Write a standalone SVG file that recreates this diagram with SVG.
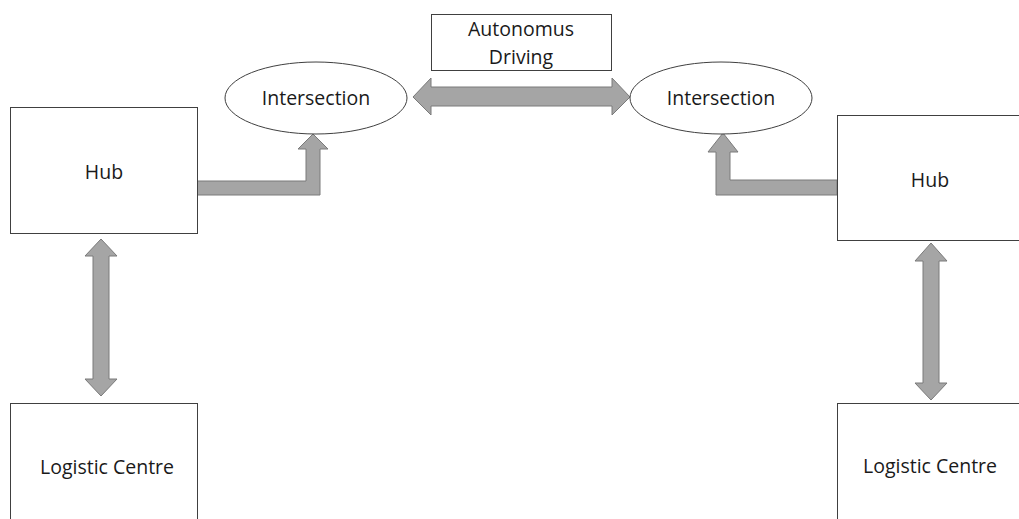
<svg xmlns="http://www.w3.org/2000/svg" width="1019" height="519" viewBox="0 0 1019 519">
  <style>
    .box { fill: #ffffff; stroke: #404040; stroke-width: 1; }
    .arrow { fill: #a5a5a5; stroke: #7a7a7a; stroke-width: 1; stroke-linejoin: miter; }
    .label { font-family: "Open Sans", "Liberation Sans", sans-serif; font-size: 19.5px; fill: #1a1a1a; text-anchor: middle; }
  </style>
  <rect width="1019" height="519" fill="#ffffff"/>

  <g id="connectors">
    <!-- left hub to left intersection (elbow) -->
    <path class="arrow" d="M197,181 H306 V149 H298 L313,134 L328,149 H320 V195 H197 Z"/>
    <!-- right hub to right intersection (elbow) -->
    <path class="arrow" d="M837,180 H730 V152 H738 L723,133 L708,152 H716 V195 H837 Z"/>
    <!-- intersection to intersection (both ways) -->
    <path class="arrow" d="M413,97 L431,78 V87 H612 V78 L630,97 L612,115 V106 H431 V115 Z"/>
    <!-- left hub to left logistic centre -->
    <path class="arrow" d="M101,239 L117,256 H109 V379 H117 L101,396 L85,379 H93 V256 H85 Z"/>
    <!-- right hub to right logistic centre -->
    <path class="arrow" d="M931,243 L947,261 H939 V383 H947 L931,400 L915,383 H923 V261 H915 Z"/>
  </g>

  <g id="hub-left">
    <rect class="box" x="10.5" y="107.5" width="187" height="126"/>
    <text class="label" x="104" y="179">Hub</text>
  </g>

  <g id="hub-right">
    <rect class="box" x="837.5" y="115.5" width="190" height="125"/>
    <text class="label" x="930" y="187">Hub</text>
  </g>

  <g id="intersection-left">
    <ellipse class="box" cx="316" cy="98" rx="91" ry="36"/>
    <text class="label" x="316" y="105">Intersection</text>
  </g>

  <g id="intersection-right">
    <ellipse class="box" cx="721" cy="98" rx="91" ry="36"/>
    <text class="label" x="721" y="105">Intersection</text>
  </g>

  <g id="autonomous-driving">
    <rect class="box" x="431.5" y="14.5" width="180" height="56"/>
    <text class="label" x="521" y="36">Autonomus</text>
    <text class="label" x="521" y="64">Driving</text>
  </g>

  <g id="logistic-left">
    <rect class="box" x="10.5" y="403.5" width="187" height="130"/>
    <text class="label" x="107" y="474">Logistic Centre</text>
  </g>

  <g id="logistic-right">
    <rect class="box" x="837.5" y="403.5" width="190" height="130"/>
    <text class="label" x="930" y="473">Logistic Centre</text>
  </g>
</svg>
